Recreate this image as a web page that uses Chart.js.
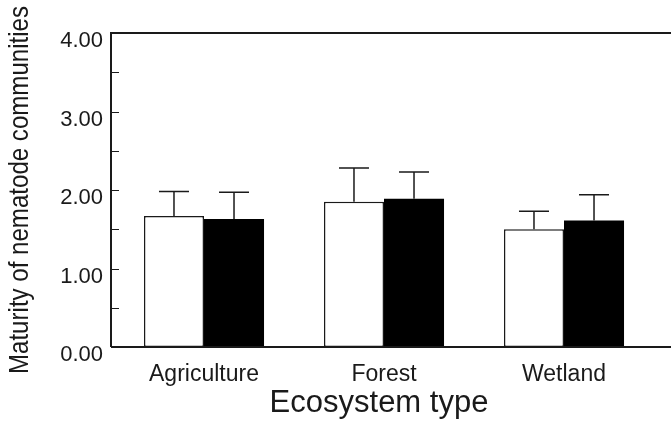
<!DOCTYPE html>
<html>
<head>
<meta charset="utf-8">
<script src="https://cdn.jsdelivr.net/npm/chart.js@4.4.1/dist/chart.umd.min.js"></script>
<style>
  html, body { margin: 0; padding: 0; background: #ffffff; }
  #wrap { width: 671px; height: 423px; }
</style>
</head>
<body>
<div id="wrap"><canvas id="barChart" width="671" height="423"></canvas></div>
<script>
//categories and values
var ecosystems = ['Agriculture', 'Forest', 'Wetland'];
var openBars = [1.67, 1.85, 1.50];
var openErr = [0.31, 0.43, 0.23];
var filledBars = [1.63, 1.89, 1.61];
var filledErr = [0.34, 0.34, 0.33];
var yTicks = [0, 1, 2, 3, 4];

var fontName = '"Liberation Sans", Arial, Helvetica, sans-serif';
var ink = '#1a1a1a';

//error bars, axis frame, inward ticks and titles
var extras = {
  id: 'extras',
  afterDatasetsDraw: function(chart) {
    var c = chart.ctx;
    var area = chart.chartArea;
    var y = chart.scales.y;
    var errs = [openErr, filledErr];
    var left = area.left - 3;

    c.save();
    c.strokeStyle = ink;
    c.lineWidth = 1.5;

    //error bars (upper half only)
    chart.data.datasets.forEach(function(ds, d) {
      var meta = chart.getDatasetMeta(d);
      meta.data.forEach(function(bar, i) {
        var top = y.getPixelForValue(ds.data[i] + errs[d][i]);
        c.beginPath();
        c.moveTo(bar.x, bar.y);
        c.lineTo(bar.x, top);
        c.moveTo(bar.x - 15, top);
        c.lineTo(bar.x + 15, top);
        c.stroke();
      });
    });

    //frame: left, top, bottom
    c.lineWidth = 2;
    c.beginPath();
    c.moveTo(left, area.bottom);
    c.lineTo(left, area.top);
    c.lineTo(chart.width, area.top);
    c.moveTo(left, area.bottom);
    c.lineTo(chart.width, area.bottom);
    c.stroke();

    //inward ticks every 0.5
    c.lineWidth = 1;
    for (var v = 0.5; v < 4; v += 0.5) {
      var py = Math.round(y.getPixelForValue(v)) + 0.5;
      c.beginPath();
      c.moveTo(left, py);
      c.lineTo(left + 8, py);
      c.stroke();
    }

    //axis titles
    c.fillStyle = ink;
    c.textAlign = 'center';
    c.textBaseline = 'alphabetic';
    c.font = '28px ' + fontName;
    c.save();
    c.translate(28, (area.top + area.bottom) / 2);
    c.rotate(-Math.PI / 2);
    c.scale(0.86, 1);
    c.fillText('Maturity of nematode communities', 0, 0);
    c.restore();

    c.font = '31px ' + fontName;
    c.fillText('Ecosystem type', 379, 412);
    c.restore();
  }
};

var ctx = document.getElementById('barChart');
var myChart = new Chart(ctx, {
  type: 'bar',
  data: {
    labels: ecosystems,
    datasets: [{
      label: 'open',
      data: openBars,
      backgroundColor: '#ffffff',
      borderColor: ink,
      borderWidth: 1.5,
      borderSkipped: false,
      categoryPercentage: 0.667,
      barPercentage: 1.0
    }, {
      label: 'filled',
      data: filledBars,
      backgroundColor: '#000000',
      borderColor: '#000000',
      borderWidth: 0,
      categoryPercentage: 0.667,
      barPercentage: 1.0
    }]
  },
  options: {
    responsive: false,
    animation: false,
    layout: { padding: { left: 0, right: 17, top: 33, bottom: 0 } },
    plugins: {
      legend: { display: false },
      tooltip: { enabled: false }
    },
    scales: {
      x: {
        grid: { display: false, drawTicks: false },
        border: { display: false },
        ticks: {
          color: ink,
          padding: 14,
          font: { family: fontName, size: 23 }
        },
        afterFit: function(scale) { scale.height = 76; }
      },
      y: {
        min: 0,
        max: 4,
        grid: { display: false, drawTicks: false },
        border: { display: false },
        ticks: {
          stepSize: 1,
          color: ink,
          padding: 11,
          labelOffset: 8,
          font: { family: fontName, size: 22 },
          callback: function(v) { return yTicks.indexOf(v) >= 0 ? v.toFixed(2) : ''; }
        },
        afterFit: function(scale) { scale.width = 114; }
      }
    }
  },
  plugins: [extras]
});
</script>
</body>
</html>
